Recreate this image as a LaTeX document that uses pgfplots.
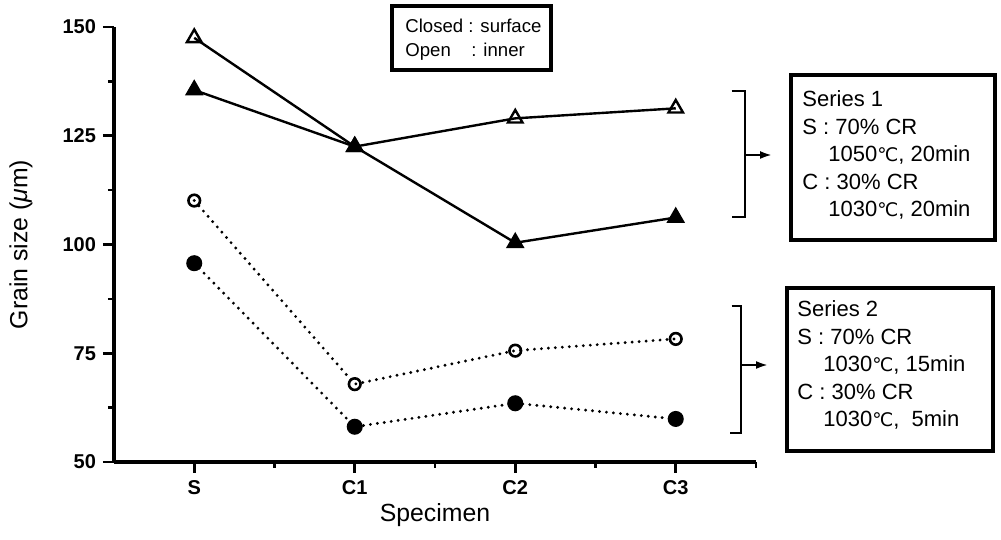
\documentclass[border=0pt]{standalone}
\usepackage{fontspec}
\setmainfont{Liberation Sans}
\newfontfamily\dejavu[Scale=0.85]{DejaVu Sans}
\usepackage{pgfplots}
\pgfplotsset{compat=1.18}
\usetikzlibrary{arrows.meta}
\newcommand\degC{{\dejavu ℃}}

\begin{document}
\begin{tikzpicture}
\begin{axis}[
  name=ax,
  scale only axis,
  width=321pt, height=217.5pt,
  xmin=-0.5, xmax=3.5, ymin=50, ymax=150,
  axis lines*=left,
  axis line style={line width=1.6pt},
  xtick={0,1,2,3}, xticklabels={S,C1,C2,C3},
  minor xtick={0.5,1.5,2.5,3.5},
  ytick={50,75,100,125,150},
  minor ytick={62.5,87.5,112.5,137.5},
  tick align=outside,
  major tick length=5.5pt, minor tick length=3pt,
  tick style={line width=1.3pt, black},
  /pgf/number format/assume math mode=true,
  tick label style={font=\fontsize{10}{12}\selectfont\bfseries},
  xlabel={Specimen},
  ylabel={Grain size (\textit{μ}m)},
  label style={font=\fontsize{12.4}{14}\selectfont},
  xlabel style={at={(axis description cs:0.5,-0.122)}, anchor=center},
  ylabel style={at={(axis description cs:-0.145,0.5)}, anchor=center},
  clip=false,
]
% Series 1, inner (open triangles)
\addplot[black, line width=1.2pt, mark=triangle, mark size=4.2pt,
  mark options={solid, line width=1.2pt, fill=white}]
  coordinates {(0,147.5) (1,122.5) (2,129.0) (3,131.3)};
% Series 1, surface (closed triangles)
\addplot[black, line width=1.2pt, mark=triangle*, mark size=4.2pt,
  mark options={solid, fill=black}]
  coordinates {(0,135.5) (1,122.5) (2,100.4) (3,106.2)};
% Series 2, inner (open circles)
\addplot[black, line width=1.6pt, line cap=round, dash pattern=on 0pt off 3.5pt,
  mark=o, mark size=2.9pt, mark options={solid, line width=1.3pt, fill=white}]
  coordinates {(0,110.1) (1,67.9) (2,75.6) (3,78.3)};
% Series 2, surface (closed circles)
\addplot[black, line width=1.6pt, line cap=round, dash pattern=on 0pt off 3.5pt,
  mark=*, mark size=3.2pt, mark options={solid, fill=black}]
  coordinates {(0,95.7) (1,58.1) (2,63.5) (3,59.9)};
\end{axis}

% annotations, in picture pixels of the reference
\begin{scope}[shift={(ax.south west)}, xshift=-57pt, yshift=231pt, x=0.5pt, y=-0.5pt]
\path (0,0) rectangle (1001,540);
% legend box
\draw[line width=1.6pt] (392,6) rectangle (551,70);
\begin{scope}[every node/.style={inner sep=0pt, anchor=base west, font=\fontsize{9.3}{11}\selectfont}]
\node at (405,33) {Closed};
\node at (468,33) {: surface};
\node at (405,57) {Open};
\node at (471,57) {: inner};
\end{scope}
% series boxes
\draw[line width=1.6pt] (791,75) rectangle (995,240);
\draw[line width=1.6pt] (787,288) rectangle (993,451);
\begin{scope}[every node/.style={inner sep=0pt, anchor=base west, font=\fontsize{11}{13}\selectfont}]
\node at (802,106.7) {Series 1};
\node at (802,135) {S : 70\% CR};
\node at (828,161.7) {1050\degC, 20min};
\node at (802,190) {C : 30\% CR};
\node at (828,216.7) {1030\degC, 20min};
\node at (797,316.7) {Series 2};
\node at (797,345) {S : 70\% CR};
\node at (823,371.7) {1030\degC, 15min};
\node at (797,400) {C : 30\% CR};
\node at (823,426.7) {1030\degC,\ \ 5min};
\end{scope}
% brackets
\draw[line width=1.1pt] (731.7,91) -- (745,91) -- (745,216.7) -- (731.7,216.7);
\draw[line width=1.1pt, -{Latex[length=6pt,width=4pt]}] (745,155) -- (772,155);
\draw[line width=1.1pt] (731.7,305.7) -- (740.7,305.7) -- (740.7,433) -- (730,433);
\draw[line width=1.1pt, -{Latex[length=6pt,width=4pt]}] (740.7,365) -- (768,365);
\end{scope}
\end{tikzpicture}
\end{document}
